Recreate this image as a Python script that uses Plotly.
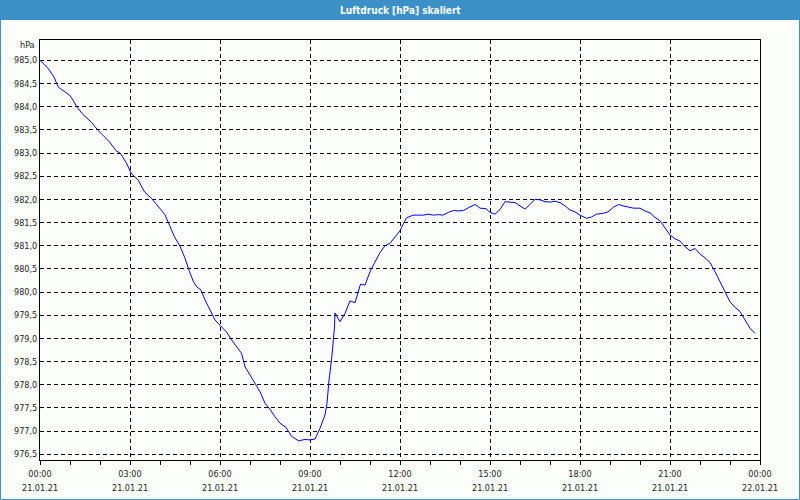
import pandas as pd
import plotly.graph_objects as go

# ---- data (minutes after 21.01.21 00:00, pressure in hPa) ----
minutes = [0, 16, 28, 36, 43, 59, 66, 74, 86, 103, 116, 126, 139, 152, 161, 173,
           182, 196, 209, 223, 239, 250, 259, 269, 280, 290, 299, 307, 313, 322,
           330, 340, 350, 361, 373, 383, 394, 403, 410, 420, 430, 440, 450, 460,
           470, 480, 492, 503, 517, 530, 540, 550, 560, 570, 574, 578, 583, 587,
           589, 590, 600, 610, 620, 630, 637, 641, 650, 660, 670, 680, 690, 700,
           710, 720, 727, 733, 746, 767, 776, 787, 797, 806, 817, 827, 836, 847,
           857, 870, 880, 892, 900, 910, 920, 930, 940, 950, 960, 970, 980, 990,
           1000, 1010, 1020, 1030, 1040, 1050, 1060, 1070, 1080, 1093, 1103, 1113,
           1127, 1136, 1147, 1157, 1166, 1177, 1187, 1200, 1210, 1220, 1230, 1240,
           1250, 1260, 1270, 1280, 1290, 1300, 1310, 1320, 1330, 1340, 1350, 1360,
           1370, 1380, 1390, 1400, 1410, 1420, 1430]
pressure = [985.00, 984.83, 984.64, 984.43, 984.37, 984.25, 984.14, 983.99, 983.83,
            983.66, 983.49, 983.38, 983.24, 983.05, 982.99, 982.78, 982.57, 982.42,
            982.16, 982.02, 981.80, 981.67, 981.44, 981.19, 980.99, 980.73, 980.44,
            980.22, 980.12, 980.04, 979.83, 979.61, 979.40, 979.27, 979.14, 978.97,
            978.82, 978.68, 978.39, 978.21, 978.03, 977.85, 977.60, 977.47, 977.31,
            977.17, 977.08, 976.89, 976.79, 976.82, 976.81, 976.83, 977.06, 977.35,
            977.60, 978.10, 978.53, 978.97, 979.25, 979.55, 979.36, 979.54, 979.81,
            979.77, 980.04, 980.17, 980.15, 980.44, 980.65, 980.85, 981.00, 981.05,
            981.19, 981.32, 981.48, 981.60, 981.66, 981.66, 981.68, 981.66, 981.67,
            981.66, 981.72, 981.76, 981.75, 981.76, 981.82, 981.89, 981.81, 981.80,
            981.72, 981.68, 981.78, 981.95, 981.94, 981.93, 981.86, 981.79, 981.89,
            982.00, 981.99, 981.95, 981.94, 981.96, 981.93, 981.86, 981.77, 981.73,
            981.66, 981.59, 981.62, 981.68, 981.70, 981.73, 981.83, 981.89, 981.86,
            981.83, 981.81, 981.81, 981.75, 981.71, 981.61, 981.54, 981.38, 981.23,
            981.15, 981.10, 980.98, 980.89, 980.94, 980.82, 980.74, 980.64, 980.44,
            980.22, 980.01, 979.79, 979.67, 979.58, 979.40, 979.22, 979.11]

tick_hours = [0, 3, 6, 9, 12, 15, 18, 21, 24]
tick_time_labels = ["00:00", "03:00", "06:00", "09:00", "12:00", "15:00", "18:00", "21:00", "00:00"]
tick_date_labels = ["21.01.21"] * 8 + ["22.01.21"]

title_text = "Luftdruck [hPa] skaliert"
unit_text = "hPa"

start = pd.Timestamp("2021-01-21 00:00")
x = [start + pd.Timedelta(minutes=m) for m in minutes]
tickvals = [start + pd.Timedelta(hours=h) for h in tick_hours]
xrange_ = [start, start + pd.Timedelta(hours=24)]

W, H = 800, 500
ML, MR, MT, MB = 40, 40, 40, 40
PW, PH = W - ML - MR, H - MT - MB


def px(xp):
    return (xp - ML) / PW


def py(yp):
    return (H - MB - yp) / PH


FONT = "DejaVu Sans Condensed, Liberation Sans, sans-serif"
BLUE = "#3b90c8"
BG = "#fcfefc"
TXT = "#1e1e1e"

fig = go.Figure()
fig.add_trace(go.Scatter(x=x, y=pressure, mode="lines",
                         line=dict(color="#0000ff", width=1), hoverinfo="skip"))
# invisible trace to activate the second (date-label) x axis
fig.add_trace(go.Scatter(x=[x[0]], y=[pressure[0]], xaxis="x2", mode="markers",
                         marker=dict(opacity=0), hoverinfo="skip"))

fig.update_layout(
    width=W, height=H,
    margin=dict(l=ML, r=MR, t=MT, b=MB, pad=0, autoexpand=False),
    paper_bgcolor=BG, plot_bgcolor=BG,
    showlegend=False,
    separators=",.",
    font=dict(family=FONT, size=9, color=TXT),
    xaxis=dict(
        type="date", range=xrange_, automargin=False,
        tickvals=tickvals, ticktext=tick_time_labels,
        showgrid=True, gridcolor="#000000", griddash="4px,3px", gridwidth=1,
        showline=True, linecolor="#000000", linewidth=1, mirror=True,
        ticks="outside", ticklen=4, tickcolor="#000000", tickwidth=1,
        ticklabelstandoff=1,
        minor=dict(dtick=3600000, ticks="outside", ticklen=4, tickcolor="#000000",
                   showgrid=False),
        zeroline=False, fixedrange=True,
    ),
    xaxis2=dict(
        type="date", range=xrange_, overlaying="x", side="bottom", anchor="y",
        automargin=False,
        tickvals=tickvals, ticktext=tick_date_labels,
        showgrid=False, showline=False, ticks="", ticklabelstandoff=21,
        zeroline=False, fixedrange=True,
    ),
    yaxis=dict(
        range=[976.377, 985.438], automargin=False,
        tick0=976.5, dtick=0.5, tickformat=".1f",
        showgrid=True, gridcolor="#000000", griddash="4px,3px", gridwidth=1,
        showline=True, linecolor="#000000", linewidth=1, mirror=True,
        ticks="", zeroline=False, fixedrange=True,
    ),
    shapes=[
        dict(type="rect", xref="paper", yref="paper", layer="above",
             x0=px(0), x1=px(800), y0=py(20), y1=py(0),
             fillcolor=BLUE, line=dict(width=0)),
        dict(type="rect", xref="paper", yref="paper", layer="above",
             x0=px(0.5), x1=px(799.5), y0=py(499.5), y1=py(0.5),
             fillcolor="rgba(0,0,0,0)", line=dict(color=BLUE, width=1)),
    ],
    annotations=[
        dict(text=f"<b>{title_text}</b>", xref="paper", yref="paper",
             x=px(400), y=py(10), xanchor="center", yanchor="middle",
             showarrow=False, font=dict(family=FONT, size=10, color="#ffffff")),
        dict(text=unit_text, xref="paper", yref="paper",
             x=px(37), y=py(45), xanchor="right", yanchor="middle",
             showarrow=False, font=dict(family=FONT, size=9, color=TXT)),
    ],
)

fig.write_html("out.html")
